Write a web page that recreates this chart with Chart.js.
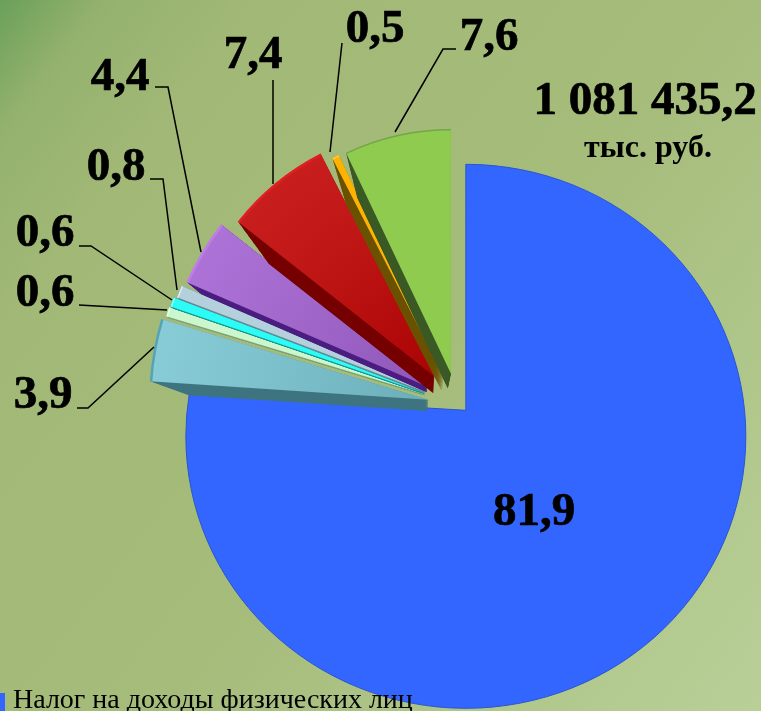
<!DOCTYPE html>
<html>
<head>
<meta charset="utf-8">
<title>Налог на доходы физических лиц</title>
<script src="https://cdn.jsdelivr.net/npm/chart.js@4"></script>
<style>
    html, body { margin: 0; padding: 0; width: 761px; height: 711px; overflow: hidden; }
    body { background: linear-gradient(128deg, #6aa05a 0%, #94b26e 8%, #a2b877 20%, #a5bc7b 55%, #b8d098 100%); }
    canvas { display: block; }
</style>
</head>
<body>
<canvas id="taxChart" width="761" height="711"></canvas>
<script>
// Chart data
const legendLabel = 'Налог на доходы физических лиц';
const shareValues = [81.9, 3.9, 0.6, 0.6, 0.8, 4.4, 7.4, 0.5, 7.6];
const totalLine = '1 081 435,2';
const totalUnit = 'тыс. руб.';

// Slice styling
const faceColors = ['#3366ff', '#79c6d2', '#ccf6cc', '#2cfbf6', '#b4d0dc', '#a362d2', '#c20404', '#ffb300', '#8ecb4e'];
const depthColors = ['#3366ff', '#3f7580', '#7fa67c', '#1d9d9a', '#6f8a99', '#4d2080', '#760000', '#6b5200', '#3b5a26'];
const rimColors = ['#2a55cc', '#56a3b2', '#e8ffe8', '#8ffff8', '#dcebf0', '#c07ce8', '#e02020', '#ffc840', '#7aa24e'];
const shadeOn = [0, 1, 0, 0, 0, 1, 1, 0, 0];
const sliceExplode = [10, 30, 34, 35, 35, 36, 37, 31, 32];
const sliceRadius = [280, 279, 271, 269, 266, 262, 250, 246, 245];

// Where depth faces converge, and how far each slice goes
const depthPoint = { x: 428, y: 482 };
const depthAmount = [0, 0.137, 0.012, 0.012, 0.012, 0.06, 0.16, 0.137, 0.137];

// Label placement, same order as shareValues: text x/baseline, then leader line
const labelSpots = [
    { x: 534, y: 525, line: [] },
    { x: 43, y: 408, line: [[77, 408], [88, 408], [154, 347]] },
    { x: 45, y: 306, line: [[79, 305], [167, 310]] },
    { x: 45, y: 246, line: [[79, 246], [91, 246], [172, 300]] },
    { x: 116, y: 180, line: [[150, 179], [163, 179], [177, 290]] },
    { x: 120, y: 90, line: [[155, 87], [168, 87], [201, 252]] },
    { x: 253, y: 68, line: [[273, 80], [273, 184]] },
    { x: 375, y: 42, line: [[342, 43], [330, 152]] },
    { x: 489, y: 50, line: [[456, 49], [443, 49], [395, 132]] }
];

function sectorPath(ctx, arc) {
    ctx.beginPath();
    ctx.moveTo(arc.x, arc.y);
    ctx.arc(arc.x, arc.y, arc.outerRadius, arc.startAngle, arc.endAngle);
    ctx.closePath();
}

function drawDepth(ctx, arc, color, amount) {
    ctx.save();
    ctx.fillStyle = color;
    for (let step = 40; step > 0; step--) {
        const scale = 1 - amount * step / 40;
        ctx.save();
        ctx.translate(depthPoint.x, depthPoint.y);
        ctx.scale(scale, scale);
        ctx.translate(-depthPoint.x, -depthPoint.y);
        sectorPath(ctx, arc);
        ctx.fill();
        ctx.restore();
    }
    ctx.restore();
}

function drawShade(ctx, arc, rim, shaded) {
    ctx.save();
    if (shaded) {
        const shade = ctx.createRadialGradient(arc.x, arc.y, 0, arc.x, arc.y, arc.outerRadius);
        shade.addColorStop(0, 'rgba(0,0,0,0.12)');
        shade.addColorStop(1, 'rgba(255,255,255,0.10)');
        ctx.fillStyle = shade;
        sectorPath(ctx, arc);
        ctx.fill();
    }
    ctx.strokeStyle = rim;
    ctx.lineWidth = shaded ? 2.5 : 1.5;
    ctx.beginPath();
    ctx.arc(arc.x, arc.y, arc.outerRadius - 1, arc.startAngle, arc.endAngle);
    ctx.stroke();
    ctx.restore();
}

// The big slice is tilted: its rim is an ellipse that does not sit on the apex
function drawTiltedSlice(ctx, arc) {
    const tiltGap = 5.2 * Math.PI / 180;
    ctx.save();
    ctx.beginPath();
    ctx.moveTo(arc.x + 1, arc.y - 2);
    ctx.ellipse(arc.x + 1, arc.y + 24, arc.outerRadius, arc.outerRadius - 8, 0, arc.startAngle, arc.endAngle + tiltGap);
    ctx.closePath();
    ctx.fillStyle = faceColors[0];
    ctx.fill();
    ctx.strokeStyle = rimColors[0];
    ctx.lineWidth = 1;
    ctx.stroke();
    ctx.restore();
}

const slicePlugin = {
    id: 'sliceDepth',
    afterDatasetsUpdate(chart) {
        const arcs = chart.getDatasetMeta(0).data;
        arcs.forEach((arc, i) => {
            const mid = (arc.startAngle + arc.endAngle) / 2;
            arc.x += Math.cos(mid) * sliceExplode[i];
            arc.y += Math.sin(mid) * sliceExplode[i];
            arc.outerRadius = sliceRadius[i];
            const baseDraw = arc.draw;
            arc.draw = function (ctx) {
                if (i === 0) {
                    drawTiltedSlice(ctx, arc);
                    return;
                }
                drawDepth(ctx, arc, depthColors[i], depthAmount[i]);
                baseDraw.call(arc, ctx);
                drawShade(ctx, arc, rimColors[i], shadeOn[i]);
            };
        });
    },
    afterDatasetsDraw(chart) {
        const ctx = chart.ctx;
        ctx.save();
        ctx.fillStyle = '#000000';
        ctx.strokeStyle = '#000000';
        ctx.textAlign = 'center';
        ctx.textBaseline = 'alphabetic';
        ctx.font = 'bold 47px "Liberation Serif"';

        shareValues.forEach((value, i) => {
            const spot = labelSpots[i];
            const text = value.toFixed(1).replace('.', ',');
            ctx.lineWidth = 0.7;
            ctx.fillText(text, spot.x, spot.y);
            ctx.strokeText(text, spot.x, spot.y);
            if (spot.line.length) {
                ctx.lineWidth = 1.5;
                ctx.beginPath();
                spot.line.forEach((p, n) => n ? ctx.lineTo(p[0], p[1]) : ctx.moveTo(p[0], p[1]));
                ctx.stroke();
            }
        });

        ctx.lineWidth = 0.7;
        ctx.fillText(totalLine, 645, 114);
        ctx.strokeText(totalLine, 645, 114);
        ctx.font = 'bold 32px "Liberation Serif"';
        ctx.fillText(totalUnit, 648, 157);

        // Legend row, cut by the bottom of the picture
        ctx.fillStyle = faceColors[0];
        ctx.fillRect(0, 693, 5, 18);
        ctx.fillStyle = '#000000';
        ctx.textAlign = 'left';
        ctx.font = '28px "Liberation Serif"';
        ctx.fillText(legendLabel, 13, 708);
        ctx.restore();
    }
};

new Chart(document.getElementById('taxChart').getContext('2d'), {
    type: 'pie',
    data: {
        labels: [legendLabel, '', '', '', '', '', '', '', ''],
        datasets: [{
            data: shareValues,
            backgroundColor: faceColors,
            borderWidth: 0
        }]
    },
    options: {
        responsive: false,
        animation: false,
        radius: 244,
        layout: { padding: { left: 155, top: 99 } },
        plugins: {
            legend: { display: false },
            tooltip: { enabled: false }
        }
    },
    plugins: [slicePlugin]
});
</script>
</body>
</html>
